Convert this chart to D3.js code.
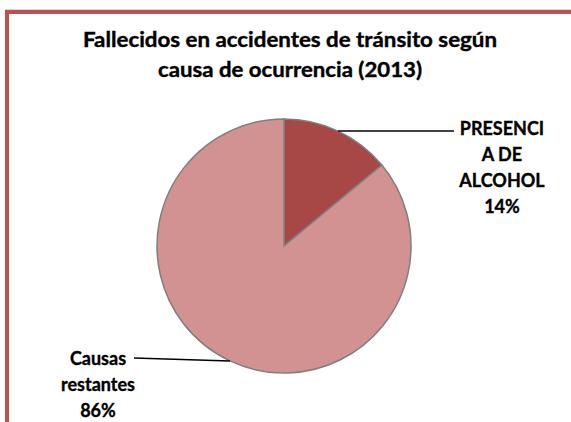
<!DOCTYPE html>
<html>
<head>
<meta charset="utf-8">
<script src="https://cdn.jsdelivr.net/npm/d3@7"></script>
<style>
body { margin: 0; background: #fff; }
.title { font-family: Lato, "Open Sans", sans-serif; font-weight: bold; fill: #000; stroke: #000; stroke-width: 0.4px; }
.lbl { font-family: Lato, "Open Sans", sans-serif; font-weight: bold; font-size: 18px; fill: #000; stroke: #000; stroke-width: 0.35px; }
.leader { stroke: #000; stroke-width: 1.5px; fill: none; }
</style>
</head>
<body>
<script>
// data
var categories = ["PRESENCIA DE ALCOHOL", "Causas restantes"];
var values = [14, 86];
var labelLines = [["PRESENCI", "A DE", "ALCOHOL", "14%"], ["Causas", "restantes", "86%"]];
var titleLines = ["Fallecidos en accidentes de tránsito según", "causa de ocurrencia (2013)"];
var colors = ["#a84846", "#d19291"];

var width = 571, height = 422;
var cx = 284, cy = 246, radius = 127;

var svg = d3.select("body").append("svg")
    .attr("width", width)
    .attr("height", height);

// chart frame (cropped on right and bottom)
svg.append("line").attr("x1", 5).attr("x2", width).attr("y1", 9.5).attr("y2", 9.5)
    .attr("stroke", "#d9d9d9").attr("stroke-width", 1);
svg.append("rect")
    .attr("x", 7).attr("y", 12)
    .attr("width", width + 20).attr("height", height + 20)
    .attr("fill", "none")
    .attr("stroke", "#c0504d")
    .attr("stroke-width", 4);

// title
var titleWidths = [414, 264];
svg.selectAll(".title").data(titleLines).enter().append("text")
    .attr("class", "title")
    .attr("x", 290)
    .attr("y", function(d, i) { return 47 + i * 30; })
    .attr("text-anchor", "middle")
    .style("font-size", "21px")
    .attr("textLength", function(d, i) { return titleWidths[i]; })
    .attr("lengthAdjust", "spacingAndGlyphs")
    .text(function(d) { return d; });

// pie
var pie = d3.pie().sort(null).value(function(d) { return d; });
var arcs = pie(values);
var arc = d3.arc().innerRadius(0).outerRadius(radius);

var g = svg.append("g").attr("transform", "translate(" + cx + "," + cy + ")");
g.selectAll("path").data(arcs).enter().append("path")
    .attr("d", arc)
    .attr("fill", function(d, i) { return colors[i]; })
    .attr("stroke", "#7f7f7f")
    .attr("stroke-width", 1.5);

// labels: leader start on the rim at the slice's mid angle
function rimPoint(d) {
  var a = (d.startAngle + d.endAngle) / 2;
  return [cx + radius * Math.sin(a), cy - radius * Math.cos(a)];
}
var labelPos = [
  { x: 502, y: 135, lineEnd: [454, 131] },
  { x: 98, y: 365, lineEnd: [134, 358] }
];

arcs.forEach(function(d, i) {
  var p = rimPoint(d);
  svg.append("path").attr("class", "leader")
    .attr("d", d3.line()([p, labelPos[i].lineEnd]));
  svg.append("g").selectAll("text").data(labelLines[i]).enter().append("text")
    .attr("class", "lbl")
    .attr("x", labelPos[i].x)
    .attr("y", function(t, j) { return labelPos[i].y + j * 26; })
    .attr("text-anchor", "middle")
    .text(function(t) { return t; });
});
</script>
</body>
</html>
